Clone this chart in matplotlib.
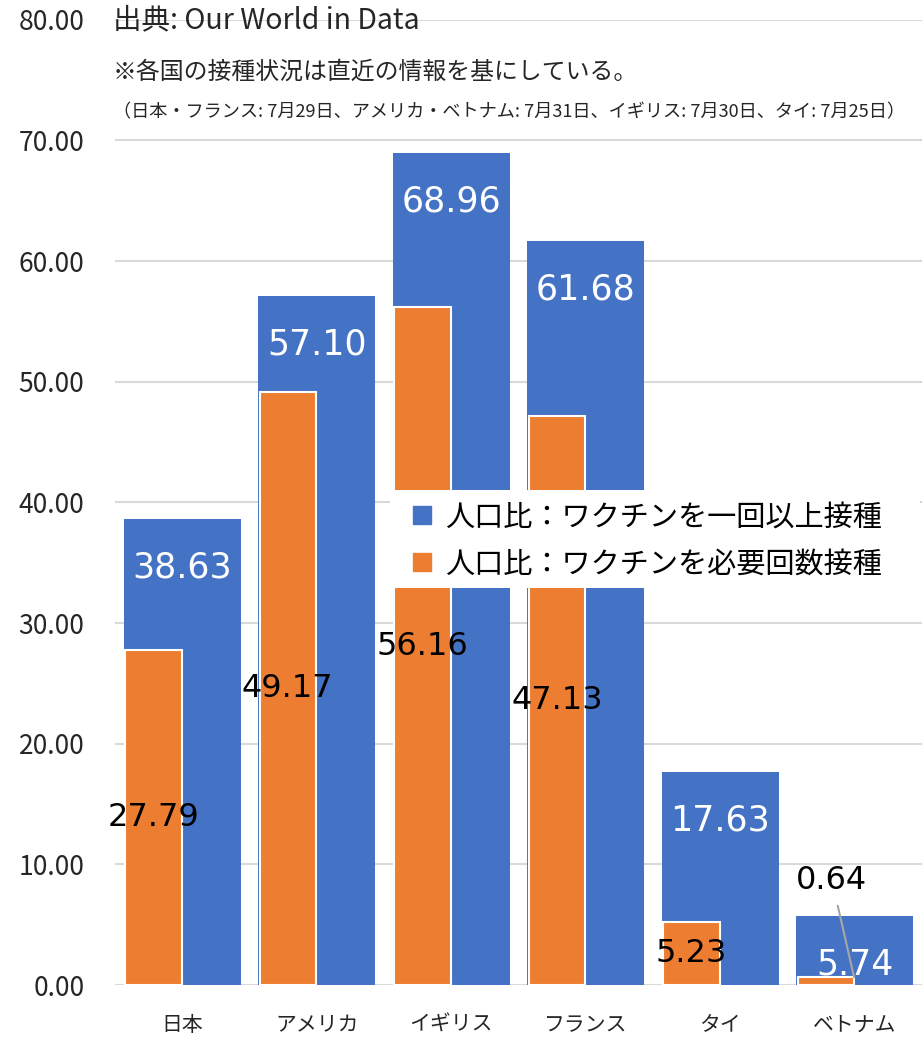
import matplotlib
matplotlib.use('Agg')
import matplotlib.pyplot as plt
from matplotlib.patches import Patch, Rectangle

plt.rcParams['font.family'] = ['Noto Sans CJK JP', 'DejaVu Sans']

countries = ['日本', 'アメリカ', 'イギリス', 'フランス', 'タイ', 'ベトナム']
at_least_one = [38.63, 57.10, 68.96, 61.68, 17.63, 5.74]
fully_vaccinated = [27.79, 49.17, 56.16, 47.13, 5.23, 0.64]
yticks = [0, 10, 20, 30, 40, 50, 60, 70, 80]
legend_labels = ['人口比：ワクチンを一回以上接種', '人口比：ワクチンを必要回数接種']

blue = '#4472C4'
orange = '#ED7D31'
wide = 0.87
narrow = 0.42

fig = plt.figure(figsize=(9.22, 10.42), dpi=100)
ax = fig.add_axes([0.1247, 0.0547, 0.8753, 0.9263])

x = list(range(len(countries)))
ax.bar(x, at_least_one, width=wide, color=blue, zorder=2)
x_orange = [i - wide / 2 + narrow / 2 + 0.01 for i in x]
ax.bar(x_orange, fully_vaccinated, width=narrow, color=orange,
       edgecolor='white', linewidth=1.5, zorder=3)

# white value labels just inside the top of the blue bars
for i, v in zip(x, at_least_one):
    ax.text(i, v - 4.0, f'{v:.2f}', ha='center', va='center', color='white',
            fontsize=25, family='DejaVu Sans', zorder=5)

# black labels centred in the orange bars; the last one sits above with a leader line
for i, v in zip(x_orange[:-1], fully_vaccinated[:-1]):
    ax.text(i, v / 2, f'{v:.2f}', ha='center', va='center', color='black',
            fontsize=23, family='DejaVu Sans', zorder=5)
last = len(x) - 1
ax.annotate(f'{fully_vaccinated[last]:.2f}',
            xy=(x_orange[last] + narrow / 2, fully_vaccinated[last]),
            xytext=(last - 0.17, 8.7), ha='center', va='center',
            fontsize=23, family='DejaVu Sans', color='black', zorder=6,
            arrowprops=dict(arrowstyle='-', color='#A6A6A6', lw=1.5,
                            patchA=None, shrinkA=19, shrinkB=0))

ax.set_xlim(-0.5, len(countries) - 0.5)
ax.set_ylim(0, 80)
ax.set_yticks(yticks)
ax.set_yticklabels([f'{t:.2f}' for t in yticks])
ax.set_xticks(x)
ax.set_xticklabels(countries)
ax.tick_params(axis='y', length=0, pad=22, labelsize=19, labelcolor='#262626')
ax.tick_params(axis='x', length=0, pad=21, labelsize=15, labelcolor='#262626')
ax.grid(axis='y', color='#D9D9D9', linewidth=1.5, zorder=0)
ax.set_axisbelow(True)
for s in ax.spines.values():
    s.set_visible(False)
ax.patch.set_alpha(0)

# legend sits on a white panel over the middle bars
fig.patches.append(Rectangle((390 / 922, 1 - 588 / 1042), 530 / 922, 98 / 1042,
                             transform=fig.transFigure, facecolor='white',
                             edgecolor='none', zorder=4))
handles = [Patch(color=blue), Patch(color=orange)]
fig.legend(handles, legend_labels, loc='upper left',
           bbox_to_anchor=(393 / 922, 1 - 482 / 1042), frameon=False,
           fontsize=21, handlelength=0.6, handleheight=0.6,
           handletextpad=0.5, labelspacing=0.58, borderpad=0.2)

fig.text(113 / 922, 1 - 20 / 1042, '出典: Our World in Data', fontsize=20.5,
         va='center', ha='left', color='#262626')
fig.text(113 / 922, 1 - 72 / 1042, '※各国の接種状況は直近の情報を基にしている。',
         fontsize=17.2, va='center', ha='left', color='#262626')
fig.text(113 / 922, 1 - 112 / 1042,
         '（日本・フランス: 7月29日、アメリカ・ベトナム: 7月31日、イギリス: 7月30日、タイ: 7月25日）',
         fontsize=13.1, va='center', ha='left', color='#262626')

fig.savefig('out.png', dpi=100, facecolor='white')
